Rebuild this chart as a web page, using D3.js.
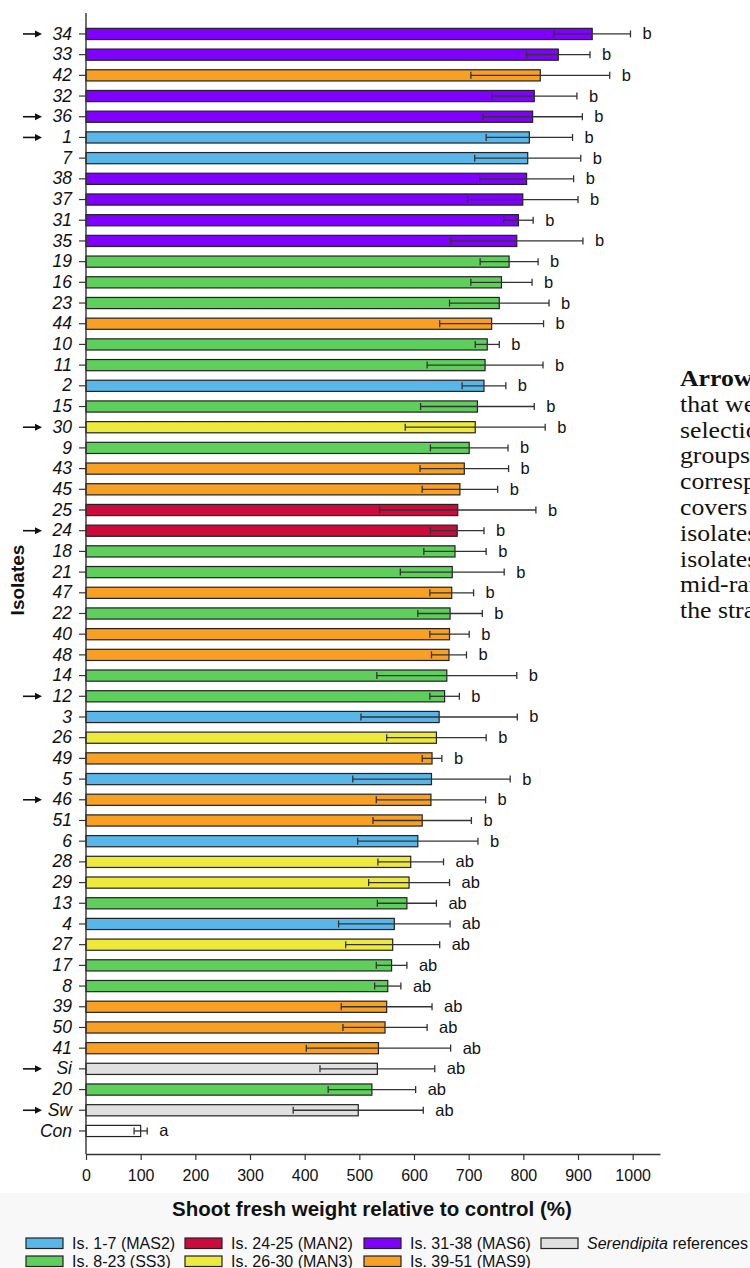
<!DOCTYPE html>
<html>
<head>
<meta charset="utf-8">
<script src="https://cdn.jsdelivr.net/npm/d3@7"></script>
<style>
  html, body { margin: 0; padding: 0; background: #fff; overflow: hidden; }
  svg { display: block; }
</style>
</head>
<body>
<svg id="chart" width="750" height="1268"></svg>
<script>
// Isolates, sorted by mean shoot fresh weight (% of control)
const isolates = ["34","33","42","32","36","1","7","38","37","31","35","19","16","23","44","10","11","2","15","30","9","43","45","25","24","18","21","47","22","40","48","14","12","3","26","49","5","46","51","6","28","29","13","4","27","17","8","39","50","41","Si","20","Sw","Con"];
const means = [926,864,831,820,817,811,808,806,799,791,788,774,760,756,742,734,730,728,716,712,701,692,684,680,679,675,670,669,666,665,664,660,656,646,641,633,632,631,615,607,594,591,587,564,561,559,552,550,547,535,533,523,498,100];
const errors = [70,58,127,78,91,79,97,86,101,27,121,53,56,91,95,22,106,40,104,128,71,81,69,143,49,57,95,40,59,36,32,128,27,143,91,18,144,100,90,110,60,74,54,102,86,28,24,83,77,132,105,80,119,12];
const letters = ["b","b","b","b","b","b","b","b","b","b","b","b","b","b","b","b","b","b","b","b","b","b","b","b","b","b","b","b","b","b","b","b","b","b","b","b","b","b","b","b","ab","ab","ab","ab","ab","ab","ab","ab","ab","ab","ab","ab","ab","a"];
const arrowed = ["34","36","1","30","24","12","46","Si","Sw"];

// Isolate groups (numeric ranges), their legend names and fills
const groupFirst = [1, 8, 24, 26, 31, 39];
const groupLast  = [7, 23, 25, 30, 38, 51];
const groupNames = ["Is. 1-7 (MAS2)", "Is. 8-23 (SS3)", "Is. 24-25 (MAN2)", "Is. 26-30 (MAN3)", "Is. 31-38 (MAS6)", "Is. 39-51 (MAS9)"];
const groupColors = ["#58b6e8", "#5fcf5c", "#cc0a3c", "#eeea3c", "#7f00ff", "#f7a024"];
const referenceIds = ["Si", "Sw"];
const referenceColor = "#e0e0e0";
const controlColor = "#ffffff";

const xTicks = [0,100,200,300,400,500,600,700,800,900,1000];

const rows = isolates.map((id, i) => ({ id, mean: means[i], err: errors[i], letter: letters[i] }));

function fillOf(id) {
  if (id === "Con") return controlColor;
  if (referenceIds.includes(id)) return referenceColor;
  const n = +id;
  const g = groupFirst.findIndex((f, k) => n >= f && n <= groupLast[k]);
  return groupColors[g];
}

const sans = "'Liberation Sans', Arial, Helvetica, sans-serif";
const serif = "'Liberation Serif', 'Times New Roman', Times, serif";
const ink = "#333";

const svg = d3.select("#chart");

// faint band behind axis title and legend
svg.append("rect").attr("x", 0).attr("y", 1193).attr("width", 750).attr("height", 75).attr("fill", "#f8f8f8");

const axisLeftX = 86, axisRightX = 660, axisTopY = 13, axisBottomY = 1154;

const x = d3.scaleLinear().domain([0, 1050]).range([axisLeftX, axisRightX]);
const y = d3.scaleBand().domain(isolates).range([23.6, 1141.3]).paddingInner(0.46).paddingOuter(0.23);

// bars
svg.append("g").selectAll("rect").data(rows).join("rect")
  .attr("x", x(0))
  .attr("y", d => y(d.id))
  .attr("width", d => x(d.mean) - x(0))
  .attr("height", y.bandwidth())
  .attr("fill", d => fillOf(d.id))
  .attr("stroke", "#222")
  .attr("stroke-width", 1.2);

// error bars
const eb = svg.append("g").attr("stroke", ink).attr("stroke-width", 1.3).attr("fill", "none");
rows.forEach(d => {
  const cy = y(d.id) + y.bandwidth() / 2;
  const x0 = x(d.mean - d.err), x1 = x(d.mean + d.err);
  eb.append("line").attr("x1", x0).attr("x2", x1).attr("y1", cy).attr("y2", cy);
  eb.append("line").attr("x1", x0).attr("x2", x0).attr("y1", cy - 3.5).attr("y2", cy + 3.5);
  eb.append("line").attr("x1", x1).attr("x2", x1).attr("y1", cy - 3.5).attr("y2", cy + 3.5);
});

// significance letters
svg.append("g").selectAll("text").data(rows).join("text")
  .attr("x", d => x(d.mean + d.err) + 12)
  .attr("y", d => y(d.id) + y.bandwidth() / 2 + 5.5)
  .attr("font-family", sans)
  .attr("font-size", 16.5)
  .attr("fill", "#111")
  .text(d => d.letter);

// y axis
const yAxis = svg.append("g")
  .attr("transform", `translate(${axisLeftX},0)`)
  .call(d3.axisLeft(y).tickSize(7).tickPadding(7).tickSizeOuter(0));
yAxis.select(".domain").remove();
yAxis.selectAll(".tick line").attr("stroke", ink).attr("stroke-width", 1.2);
yAxis.selectAll(".tick text")
  .attr("font-family", sans).attr("font-size", 17.5).attr("font-style", "italic").attr("fill", "#111");
svg.append("line").attr("x1", axisLeftX).attr("x2", axisLeftX).attr("y1", axisTopY).attr("y2", axisBottomY)
  .attr("stroke", ink).attr("stroke-width", 1.4);

// x axis
const xAxis = svg.append("g")
  .attr("transform", `translate(0,${axisBottomY})`)
  .call(d3.axisBottom(x).tickValues(xTicks).tickFormat(d3.format("d")).tickSize(6).tickPadding(10).tickSizeOuter(0));
xAxis.select(".domain").attr("stroke", ink).attr("stroke-width", 1.4);
xAxis.selectAll(".tick line").attr("stroke", ink).attr("stroke-width", 1.2);
xAxis.selectAll(".tick text").attr("font-family", sans).attr("font-size", 16).attr("fill", "#111");

// arrows marking selected isolates
const ag = svg.append("g");
arrowed.forEach(id => {
  const cy = y(id) + y.bandwidth() / 2;
  ag.append("line").attr("x1", 23).attr("x2", 37).attr("y1", cy).attr("y2", cy)
    .attr("stroke", "#111").attr("stroke-width", 1.6);
  ag.append("path").attr("d", `M42,${cy} L35,${cy - 3.5} L35,${cy + 3.5} Z`).attr("fill", "#111");
});

// axis titles
svg.append("text")
  .attr("transform", "translate(24,580) rotate(-90)")
  .attr("text-anchor", "middle")
  .attr("font-family", sans).attr("font-size", 19).attr("font-weight", "bold").attr("fill", "#111")
  .text("Isolates");

svg.append("text")
  .attr("x", 372).attr("y", 1216)
  .attr("text-anchor", "middle")
  .attr("font-family", sans).attr("font-size", 20.5).attr("font-weight", "bold").attr("fill", "#111")
  .text("Shoot fresh weight relative to control (%)");

// legend
const legendItems = [
  { name: groupNames[0], color: groupColors[0], col: 0, row: 0 },
  { name: groupNames[2], color: groupColors[2], col: 1, row: 0 },
  { name: groupNames[4], color: groupColors[4], col: 2, row: 0 },
  { name: null,          color: referenceColor, col: 3, row: 0 },
  { name: groupNames[1], color: groupColors[1], col: 0, row: 1 },
  { name: groupNames[3], color: groupColors[3], col: 1, row: 1 },
  { name: groupNames[5], color: groupColors[5], col: 2, row: 1 }
];
const colX = [26, 185, 364, 541];
const rowY = [1238, 1256];
const lg = svg.append("g");
legendItems.forEach(it => {
  const lx = colX[it.col], ly = rowY[it.row];
  lg.append("rect").attr("x", lx).attr("y", ly).attr("width", 37).attr("height", 10.5)
    .attr("fill", it.color).attr("stroke", "#222").attr("stroke-width", 1.2);
  const t = lg.append("text").attr("x", lx + 46).attr("y", ly + 10.5)
    .attr("font-family", sans).attr("font-size", 16).attr("fill", "#111");
  if (it.name) {
    t.text(it.name);
  } else {
    t.append("tspan").attr("font-style", "italic").text("Serendipita");
    t.append("tspan").text(" references");
  }
});

// side note (runs past the right edge), set in a slightly widened serif
const noteLines = [
  "indicate the isolates",
  "that were chosen for further",
  "selection experiments, taken from all",
  "groups so that each clade is",
  "corresponding to at least one; the set",
  "covers the best performing",
  "isolates, several intermediate",
  "isolates and some with a",
  "mid-range growth effect as well as",
  "the strains of both references."
];
const note = svg.append("g").attr("transform", "translate(680,0) scale(1.12,1)")
  .append("text").attr("font-family", serif).attr("font-size", 23).attr("fill", "#111");
noteLines.forEach((line, i) => {
  const ts = note.append("tspan").attr("x", 0).attr("y", 386 + i * 25.8);
  if (i === 0) {
    ts.append("tspan").attr("font-weight", "bold").text("Arrows");
    ts.append("tspan").text(" " + line);
  } else {
    ts.text(line);
  }
});
</script>
</body>
</html>
